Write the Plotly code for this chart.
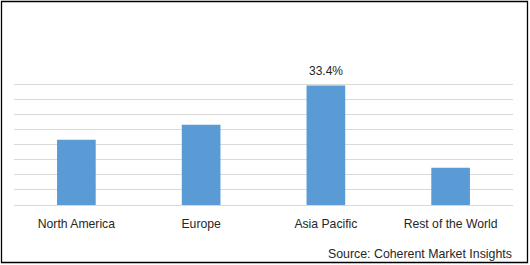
import plotly.graph_objects as go

categories = ["North America", "Europe", "Asia Pacific", "Rest of the World"]
shares = [18.2, 22.4, 33.4, 10.4]
label_text = "33.4%"
label_category = "Asia Pacific"
source_text = "Source: Coherent Market Insights"

W, H = 530, 265
L, R, T, B = 14, 17, 69, 60
pw, ph = W - L - R, H - T - B

def px_x(x):
    return (x - L) / pw

def px_y(y):
    return (H - B - y) / ph

ymax = 38.0
txt = "#262626"
fig = go.Figure(go.Bar(
    x=categories, y=shares, marker_color="#5b9bd5", marker_line_width=0,
    hoverinfo="skip",
))
fig.update_layout(
    width=W, height=H, margin=dict(l=L, r=R, t=T, b=B),
    paper_bgcolor="white", plot_bgcolor="white",
    bargap=0.69, showlegend=False,
    font=dict(family="Liberation Sans, Arial, sans-serif", size=12, color=txt),
    xaxis=dict(showgrid=False, showline=True, linecolor="#d9d9d9", linewidth=1,
               ticks="outside", ticklen=7, tickcolor="rgba(0,0,0,0)",
               tickfont=dict(size=12.2, color=txt)),
    yaxis=dict(range=[0, ymax], dtick=ymax / 9, showticklabels=False,
               showgrid=True, gridcolor="#d9d9d9", gridwidth=1, zeroline=False),
    annotations=[
        dict(x=label_category, y=shares[categories.index(label_category)],
             text=label_text, showarrow=False, yanchor="bottom", yshift=5,
             font=dict(size=12, color=txt)),
        dict(xref="paper", yref="paper", x=px_x(326), y=px_y(254),
             text=source_text, showarrow=False, xanchor="left", yanchor="middle",
             font=dict(size=12.35, color=txt)),
    ],
    shapes=[dict(type="rect", xref="paper", yref="paper",
                 x0=px_x(1.5), x1=px_x(527.5), y0=px_y(262.5), y1=px_y(1.5),
                 line=dict(color="black", width=1.3))],
)
fig.write_html("out.html")
